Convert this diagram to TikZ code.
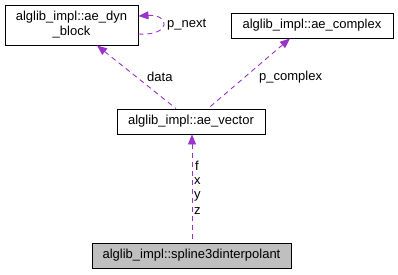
\documentclass[tikz,border=0pt]{standalone}
\usepackage{fontspec}
\setmainfont{Liberation Sans}
\usetikzlibrary{arrows.meta}
\definecolor{edgepurple}{HTML}{9A32CD}
\begin{document}
\begin{tikzpicture}[x=1bp,y=-1bp,
  classbox/.style={draw=black,line width=0.9bp,fill=white,inner sep=0pt,font=\fontsize{13bp}{15bp}\selectfont,align=center},
  relation/.style={draw=edgepurple,line width=0.9bp,dash pattern=on 5bp off 4bp,
    {Triangle[length=10bp,width=8bp]}-},
  lbl/.style={font=\fontsize{13bp}{15bp}\selectfont,inner sep=0pt}]
\useasboundingbox (0,0) rectangle (398,275);
% class boxes
\node[classbox,minimum width=133bp,minimum height=40bp] (dyn) at (71.5,25) {alglib\_impl::ae\_dyn\\\_block};
\node[classbox,minimum width=162bp,minimum height=25bp] (cpx) at (312,25.5) {alglib\_impl::ae\_complex};
\node[classbox,minimum width=148bp,minimum height=25bp] (vec) at (191,121.5) {alglib\_impl::ae\_vector};
\node[classbox,fill={rgb,255:red,191;green,191;blue,191},minimum width=199bp,minimum height=25bp] (spl) at (191.5,255.5) {alglib\_impl::spline3dinterpolant};
% relations
\draw[relation] (vec.south -| 192,0) -- (spl.north -| 192,0);
\draw[relation] (dyn.south -| 97,0) -- (vec.north -| 176,0);
\draw[relation] (cpx.south -| 290,0) -- (vec.north -| 208,0);
\draw[relation] (dyn.east |- 0,16) .. controls (170,14) and (172,36) .. (dyn.east |- 0,34);
% labels
\node[lbl,anchor=west] (lf) at (195,166) {f};
\node[lbl,anchor=west] (lx) at (194,181) {x};
\node[lbl,anchor=west] (ly) at (194,196) {y};
\node[lbl,anchor=west] (lz) at (194,211) {z};
\node[lbl,anchor=west] (ldata) at (147,77) {data};
\node[lbl,anchor=west] (lpc) at (259,77) {p\_complex};
\node[lbl,anchor=west] (lpn) at (167,25) {p\_next};
\end{tikzpicture}
\end{document}
